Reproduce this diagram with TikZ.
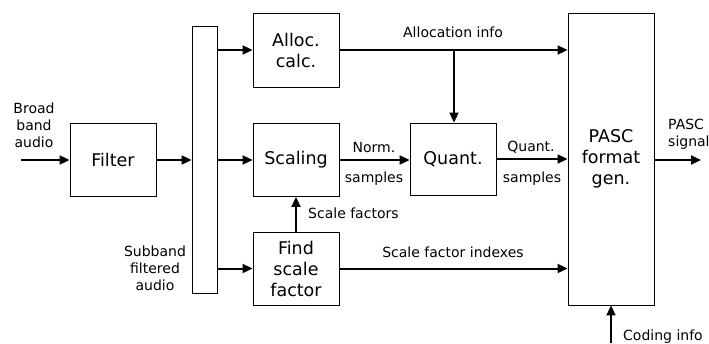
\documentclass[tikz,border=0pt]{standalone}
\usepackage{fontspec}
\setmainfont{DejaVu Sans}
\usetikzlibrary{arrows.meta}
\begin{document}
\begin{tikzpicture}[x=1pt,y=-1pt,
  blk/.style={draw,line width=0.9pt,inner sep=0pt,align=center,
    font=\fontsize{17.5}{21}\selectfont},
  lbl/.style={inner sep=0pt,align=center,font=\fontsize{14}{17}\selectfont},
  conn/.style={line width=2pt,-{Triangle[length=10pt,width=9pt]}},
  plain/.style={line width=2pt}]
\useasboundingbox (0,0) rectangle (709,343);
% blocks
\node[blk,minimum width=86pt,minimum height=73pt] (filter) at (113,160) {Filter};
\node[draw,line width=0.9pt,inner sep=0pt,minimum width=25pt,minimum height=267pt] (bank) at (204.5,159.5) {};
\node[blk,minimum width=86pt,minimum height=74pt] (alloc) at (296,50) {Alloc.\\calc.};
\node[blk,minimum width=86pt,minimum height=73pt] (scaling) at (296,160) {Scaling};
\node[blk,minimum width=86pt,minimum height=73pt] (find) at (296,268.5) {Find\\scale\\factor};
\node[blk,minimum width=86pt,minimum height=72pt] (quant) at (453,159) {Quant.};
\node[blk,minimum width=86pt,minimum height=292pt] (pasc) at (611,159) {PASC\\format\\gen.};
% free ends
\coordinate (in) at (21,160);
\coordinate (out) at (701,160);
\coordinate (code) at (611,343);
\coordinate (junc) at (454,50);
% labels
\node[lbl] (lbroad) at (34,125) {Broad\\band\\audio};
\node[lbl] (lsub) at (155,268) {Subband\\filtered\\audio};
\node[lbl,anchor=west] (lsf) at (308,213) {Scale factors};
\node[lbl] (lalloc) at (453,32) {Allocation info};
\node[lbl] (lnorm) at (374,147) {Norm.};
\node[lbl] (lnsamp) at (374,179) {samples};
\node[lbl] (lquant) at (531,147) {Quant.};
\node[lbl] (lqsamp) at (532,179) {samples};
\node[lbl] (lsfi) at (453,252) {Scale factor indexes};
\node[lbl,anchor=west,align=left] (lpasc) at (668,134) {PASC\\signal};
\node[lbl,anchor=west] (lcode) at (623,337) {Coding info};
% connectors
\draw[conn] (in) -- (filter.west);
\draw[conn] (filter.east) -- (bank.west |- filter.east);
\draw[conn] (bank.east |- alloc.west) -- (alloc.west);
\draw[conn] (bank.east |- scaling.west) -- (scaling.west);
\draw[conn] (bank.east |- find.west) -- (find.west);
\draw[conn] (alloc.east) -- (alloc.east -| pasc.west);
\draw[conn] (junc) -- (junc |- quant.north);
\draw[conn] (scaling.east) -- (scaling.east -| quant.west);
\draw[conn] (quant.east) -- (quant.east -| pasc.west);
\draw[conn] (find.north) -- (scaling.south);
\draw[conn] (find.east) -- (find.east -| pasc.west);
\draw[conn] (pasc.east |- out) -- (out);
\draw[conn] (code) -- (pasc.south);
\end{tikzpicture}
\end{document}
